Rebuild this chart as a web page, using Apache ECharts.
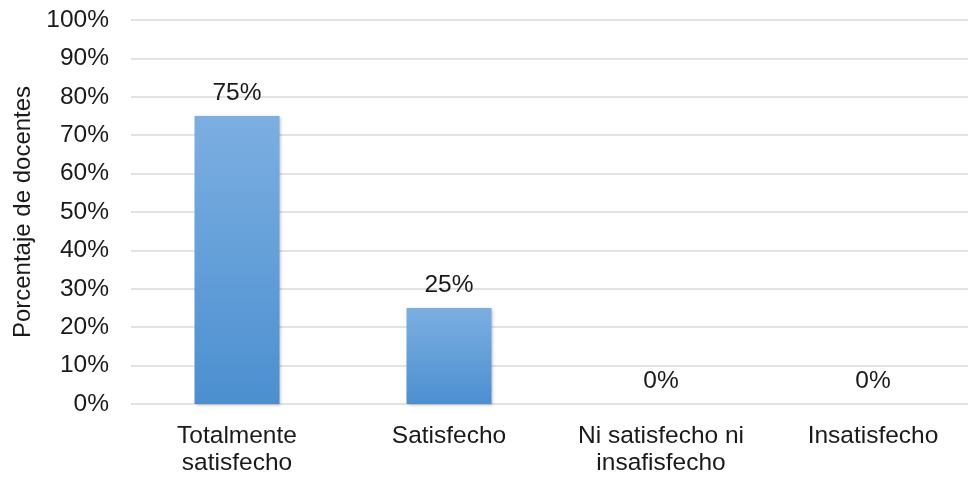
<!DOCTYPE html>
<html>
<head>
<meta charset="utf-8">
<script src="https://cdn.jsdelivr.net/npm/echarts@6/dist/echarts.min.js"></script>
<style>
html,body{margin:0;padding:0;background:#fff;overflow:hidden;}
#chart{width:980px;height:477px;}
</style>
</head>
<body>
<div id="chart"></div>
<script>
// Satisfacción de los docentes
const categories = ['Totalmente\nsatisfecho', 'Satisfecho', 'Ni satisfecho ni\ninsafisfecho', 'Insatisfecho'];
const values = [75, 25, 0, 0];
const yTicks = [0, 10, 20, 30, 40, 50, 60, 70, 80, 90, 100];
const yAxisName = 'Porcentaje de docentes';

const chart = echarts.init(document.getElementById('chart'));
const font = 'Liberation Sans, Arial, sans-serif';

chart.setOption({
  animation: false,
  grid: { left: 131, right: 1, top: 20, bottom: 72, containLabel: false },
  xAxis: {
    type: 'category',
    data: categories,
    axisLine: { show: false },
    axisTick: { show: false },
    axisLabel: { interval: 0, color: '#1a1a1a', fontFamily: font, fontSize: 24.5, lineHeight: 27, margin: 19 }
  },
  yAxis: {
    type: 'value',
    min: yTicks[0],
    max: yTicks[yTicks.length - 1],
    interval: yTicks[1] - yTicks[0],
    name: yAxisName,
    nameLocation: 'middle',
    nameRotate: 90,
    nameGap: 95,
    nameTextStyle: { color: '#1a1a1a', fontFamily: font, fontSize: 24 },
    axisLine: { show: false },
    axisTick: { show: false },
    axisLabel: { color: '#1a1a1a', fontFamily: font, fontSize: 24.5, margin: 22, formatter: v => v + '%' },
    splitLine: { lineStyle: { color: '#d9d9d9', width: 1.5 } }
  },
  series: [{
    type: 'bar',
    data: values,
    barWidth: 85,
    itemStyle: {
      color: new echarts.graphic.LinearGradient(0, 0, 0, 1, [
        { offset: 0, color: '#7cafe1' },
        { offset: 1, color: '#4b8fd0' }
      ]),
      shadowColor: 'rgba(0,0,0,0.25)',
      shadowBlur: 3,
      shadowOffsetX: 1,
      shadowOffsetY: 1
    },
    label: {
      show: true,
      position: 'top',
      distance: 10,
      color: '#1a1a1a',
      fontFamily: font,
      fontSize: 24.5,
      formatter: p => p.value + '%'
    }
  }]
});
</script>
</body>
</html>
